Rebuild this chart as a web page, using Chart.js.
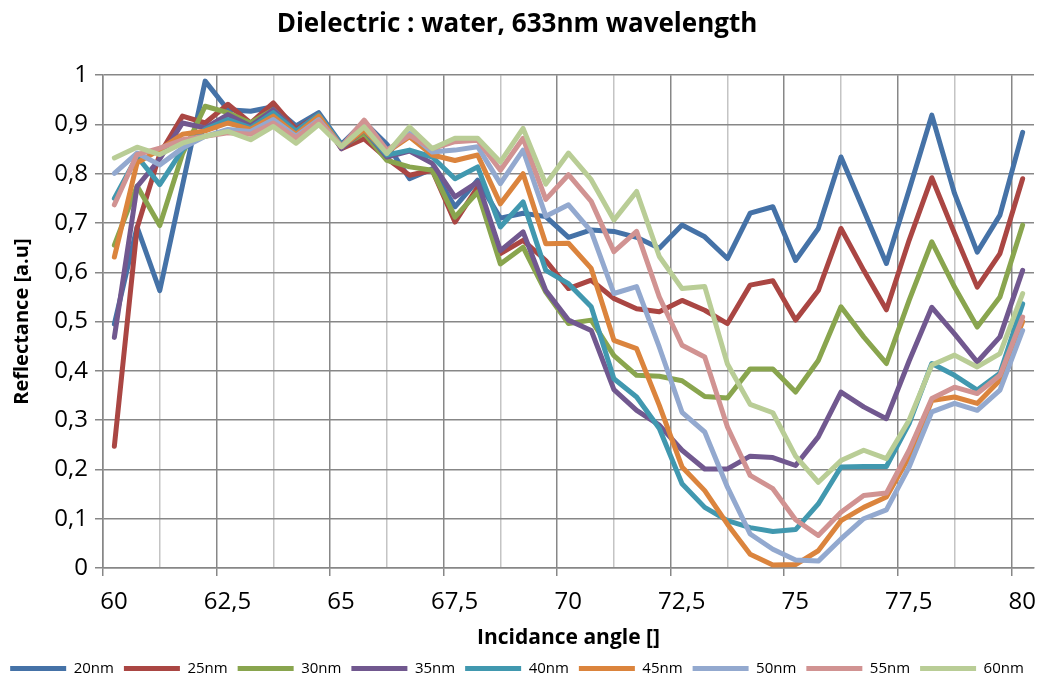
<!DOCTYPE html>
<html>
<head>
<meta charset="utf-8">
<title>Dielectric : water, 633nm wavelength</title>
<script src="https://cdn.jsdelivr.net/npm/chart.js@4.4.1/dist/chart.umd.min.js"></script>
<style>
  html, body { margin: 0; padding: 0; background: #fff; }
  #wrap { width: 1051px; height: 682px; position: relative; }
</style>
</head>
<body>
<div id="wrap"><canvas id="chart"></canvas></div>
<script>
// incidence angles (deg)
const angles = [60.25, 60.75, 61.25, 61.75, 62.25, 62.75, 63.25, 63.75, 64.25, 64.75,
  65.25, 65.75, 66.25, 66.75, 67.25, 67.75, 68.25, 68.75, 69.25, 69.75,
  70.25, 70.75, 71.25, 71.75, 72.25, 72.75, 73.25, 73.75, 74.25, 74.75,
  75.25, 75.75, 76.25, 76.75, 77.25, 77.75, 78.25, 78.75, 79.25, 79.75, 80.25];

// reflectance per layer thickness
const r20 = [0.495, 0.692, 0.563, 0.776, 0.988, 0.93, 0.927, 0.936, 0.897, 0.924,
  0.86, 0.905, 0.86, 0.79, 0.81, 0.733, 0.787, 0.71, 0.72, 0.713,
  0.671, 0.686, 0.683, 0.671, 0.649, 0.696, 0.672, 0.628, 0.72, 0.733,
  0.624, 0.689, 0.834, 0.726, 0.618, 0.767, 0.919, 0.76, 0.641, 0.716, 0.884];
const r25 = [0.247, 0.69, 0.84, 0.917, 0.903, 0.941, 0.903, 0.944, 0.89, 0.92,
  0.851, 0.871, 0.831, 0.797, 0.807, 0.702, 0.773, 0.638, 0.665, 0.624,
  0.567, 0.584, 0.547, 0.526, 0.52, 0.543, 0.523, 0.496, 0.574, 0.583,
  0.503, 0.563, 0.689, 0.604, 0.524, 0.665, 0.792, 0.679, 0.57, 0.638, 0.79];
const r30 = [0.655, 0.775, 0.695, 0.84, 0.937, 0.924, 0.903, 0.93, 0.886, 0.917,
  0.855, 0.882, 0.827, 0.814, 0.807, 0.712, 0.763, 0.617, 0.651, 0.56,
  0.496, 0.503, 0.431, 0.391, 0.389, 0.38, 0.348, 0.345, 0.404, 0.404,
  0.357, 0.421, 0.53, 0.469, 0.415, 0.543, 0.662, 0.57, 0.489, 0.55, 0.696];
const r35 = [0.468, 0.774, 0.83, 0.903, 0.893, 0.92, 0.897, 0.93, 0.886, 0.92,
  0.851, 0.889, 0.834, 0.846, 0.821, 0.753, 0.783, 0.644, 0.682, 0.563,
  0.503, 0.482, 0.362, 0.32, 0.29, 0.239, 0.201, 0.201, 0.227, 0.224,
  0.208, 0.266, 0.357, 0.327, 0.303, 0.42, 0.529, 0.475, 0.418, 0.469, 0.604];
const r40 = [0.75, 0.835, 0.778, 0.849, 0.89, 0.91, 0.893, 0.924, 0.886, 0.92,
  0.858, 0.889, 0.838, 0.848, 0.834, 0.79, 0.814, 0.692, 0.743, 0.604,
  0.577, 0.53, 0.384, 0.347, 0.283, 0.171, 0.123, 0.096, 0.082, 0.074,
  0.078, 0.13, 0.205, 0.206, 0.206, 0.293, 0.415, 0.391, 0.361, 0.395, 0.536];
const r45 = [0.631, 0.822, 0.849, 0.88, 0.887, 0.903, 0.89, 0.917, 0.88, 0.917,
  0.855, 0.889, 0.844, 0.875, 0.838, 0.827, 0.838, 0.739, 0.8, 0.658,
  0.659, 0.608, 0.462, 0.445, 0.33, 0.205, 0.157, 0.089, 0.028, 0.006,
  0.007, 0.035, 0.096, 0.123, 0.144, 0.225, 0.34, 0.347, 0.334, 0.381, 0.5];
const r50 = [0.801, 0.842, 0.818, 0.852, 0.876, 0.89, 0.886, 0.91, 0.876, 0.91,
  0.855, 0.902, 0.844, 0.882, 0.844, 0.848, 0.855, 0.78, 0.848, 0.714,
  0.737, 0.683, 0.557, 0.571, 0.448, 0.316, 0.276, 0.164, 0.069, 0.038,
  0.016, 0.014, 0.059, 0.1, 0.118, 0.205, 0.317, 0.334, 0.32, 0.361, 0.482];
const r55 = [0.737, 0.839, 0.852, 0.869, 0.876, 0.883, 0.88, 0.903, 0.873, 0.907,
  0.855, 0.909, 0.848, 0.878, 0.851, 0.865, 0.868, 0.807, 0.872, 0.748,
  0.798, 0.744, 0.642, 0.683, 0.55, 0.452, 0.428, 0.286, 0.188, 0.161,
  0.098, 0.066, 0.113, 0.147, 0.152, 0.239, 0.344, 0.367, 0.354, 0.391, 0.509];
const r60 = [0.832, 0.854, 0.839, 0.862, 0.876, 0.886, 0.869, 0.896, 0.862, 0.9,
  0.855, 0.895, 0.841, 0.895, 0.851, 0.872, 0.872, 0.824, 0.892, 0.779,
  0.842, 0.788, 0.706, 0.764, 0.632, 0.567, 0.571, 0.414, 0.332, 0.315,
  0.227, 0.174, 0.218, 0.239, 0.222, 0.3, 0.412, 0.432, 0.408, 0.435, 0.557];

const seriesNames = ["20nm", "25nm", "30nm", "35nm", "40nm", "45nm", "50nm", "55nm", "60nm"];
const seriesValues = [r20, r25, r30, r35, r40, r45, r50, r55, r60];
const seriesColors = ["#4572a7", "#aa4643", "#89a54e", "#71588f", "#4198af",
  "#db843d", "#93a9cf", "#d19392", "#b9cd96"];

const FONT = "'Open Sans', 'DejaVu Sans', sans-serif";
const isMajor = (v) => Math.abs(Math.round((v - 60) / 2.5) * 2.5 - (v - 60)) < 1e-6;
const comma = (v) => String(Math.round(v * 100) / 100).replace(".", ",");

const datasets = seriesNames.map((name, i) => ({
  label: name,
  data: angles.map((a, j) => ({ x: a, y: seriesValues[i][j] })),
  borderColor: seriesColors[i],
  backgroundColor: seriesColors[i],
  borderWidth: 5,
  borderJoinStyle: "round",
  borderCapStyle: "round",
  pointRadius: 0,
  pointHoverRadius: 0,
  tension: 0,
  order: seriesNames.length - i, // later series on top, like Excel
}));

new Chart(document.getElementById("chart"), {
  type: "line",
  data: { datasets },
  options: {
    responsive: true,
    maintainAspectRatio: false,
    animation: false,
    layout: { padding: { left: 0, right: 17, top: 0, bottom: -4 } },
    plugins: {
      title: {
        display: true,
        text: "Dielectric : water, 633nm wavelength",
        color: "#000",
        font: { family: FONT, size: 26, weight: "bold" },
        padding: { top: 9, bottom: 35 },
      },
      legend: {
        position: "bottom",
        labels: {
          color: "#000",
          font: { family: FONT, size: 15, lineHeight: 0.6 },
          usePointStyle: true,
          pointStyle: "line",
          pointStyleWidth: 56,
          boxHeight: 6,
          padding: 10,
          sort: (a, b) => a.datasetIndex - b.datasetIndex,
        },
      },
      tooltip: { enabled: false },
    },
    scales: {
      x: {
        type: "linear",
        min: 60,
        max: 80.5,
        afterFit: (scale) => { scale.height = 83; },
        ticks: {
          stepSize: 1.25,
          includeBounds: false,
          autoSkip: false,
          maxRotation: 0,
          labelOffset: 11,
          padding: 12,
          color: "#000",
          font: { family: FONT, size: 24 },
          callback: (v) => (isMajor(v) ? comma(v) : ""),
        },
        grid: {
          color: (ctx) => (ctx.tick && isMajor(ctx.tick.value) ? "#878787" : "#c4c4c4"),
          tickColor: (ctx) => (ctx.tick && isMajor(ctx.tick.value) ? "#878787" : "rgba(0,0,0,0)"),
          lineWidth: 1.5,
          tickLength: 8,
        },
        border: { color: "#878787", width: 1.5 },
        title: {
          display: true,
          text: "Incidance angle []",
          color: "#000",
          font: { family: FONT, size: 21, weight: "bold" },
          padding: { top: 0, bottom: 0 },
        },
      },
      y: {
        min: 0,
        max: 1,
        afterFit: (scale) => { scale.width = 103; },
        ticks: {
          stepSize: 0.1,
          padding: 7,
          color: "#000",
          font: { family: FONT, size: 24 },
          callback: (v) => comma(v),
        },
        grid: { color: "#878787", lineWidth: 1.5, tickLength: 8 },
        border: { color: "#878787", width: 1.5 },
        title: {
          display: true,
          text: "Reflectance [a.u]",
          color: "#000",
          font: { family: FONT, size: 20, weight: "bold" },
          padding: { top: 10, bottom: 0 },
        },
      },
    },
  },
});
</script>
</body>
</html>
